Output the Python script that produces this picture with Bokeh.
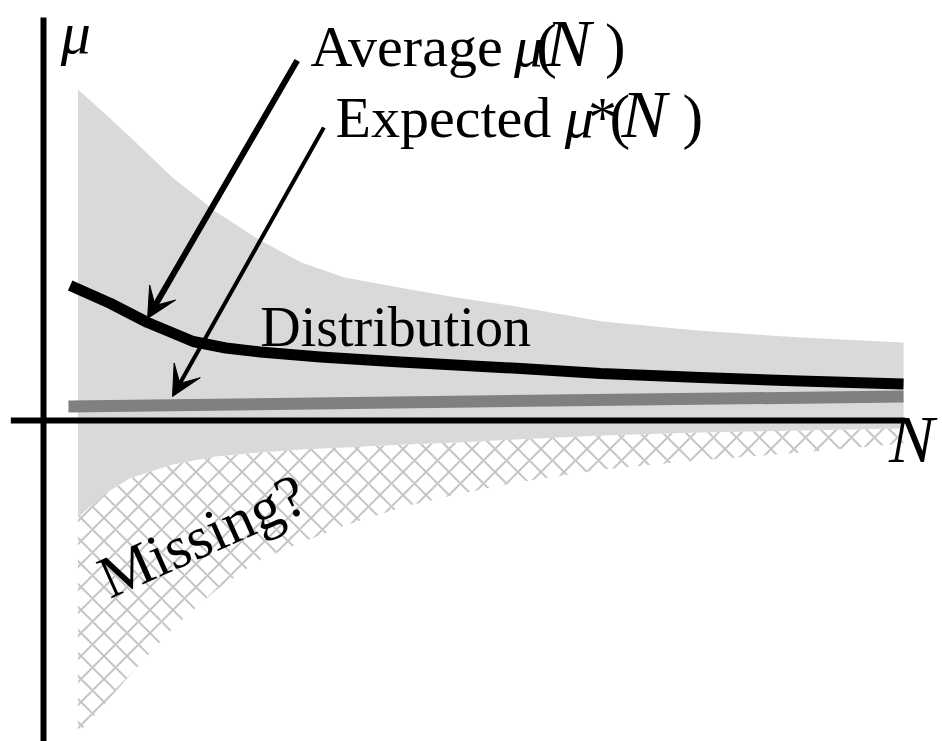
import math
from bokeh.plotting import figure
from bokeh.models import Range1d, Label, Arrow, VeeHead, ColumnDataSource
from bokeh.embed import file_html
from bokeh.resources import INLINE

# ---- data (diagram units: N along x, mu along y) ----
n_band = [4, 7, 10, 15, 20, 25, 30, 35, 42, 48, 55, 65, 76, 88, 100]
mu_upper = [3.31, 3.08, 2.84, 2.43, 2.09, 1.81, 1.58, 1.43, 1.32, 1.23, 1.14, 0.99, 0.90, 0.83, 0.78]
mu_gray_low = [-0.97, -0.74, -0.58, -0.44, -0.36, -0.32, -0.29, -0.27, -0.24, -0.22, -0.19, -0.15, -0.12, -0.10, -0.08]
mu_missing_low = [-3.13, -2.85, -2.55, -2.08, -1.70, -1.40, -1.22, -1.05, -0.86, -0.74, -0.62, -0.49, -0.40, -0.32, -0.23]

n_avg = [3.1, 7.8, 12.1, 17.4, 21.2, 25.2, 32.2, 41.5, 55.5, 64.8, 76.4, 88.0, 100]
mu_avg = [1.35, 1.17, 0.98, 0.79, 0.725, 0.685, 0.635, 0.585, 0.52, 0.47, 0.43, 0.395, 0.365]

n_exp = [2.9, 50, 100]
mu_exp = [0.14, 0.19, 0.24]

n_axis = [-3.8, 100.2]
mu_axis = [4.03, -3.4]

FONT = "Liberation Serif"
XS, YS = 8.6, 100.0   # pixels per data unit

p = figure(width=942, height=741,
           x_range=Range1d(-5.0, 104.53), y_range=Range1d(-3.21, 4.20),
           output_backend="svg", toolbar_location=None,
           x_axis_type=None, y_axis_type=None, min_border=0)
p.outline_line_color = None
p.background_fill_color = "white"
p.border_fill_color = "white"

band = ColumnDataSource(dict(n=n_band, up=mu_upper, gl=mu_gray_low, ml=mu_missing_low))

# missing (hatched) part
p.varea(x="n", y1="ml", y2="gl", source=band, fill_color="white",
        hatch_pattern="x", hatch_color="#c6c6c6", hatch_weight=2, hatch_scale=23)
# distribution (gray)
p.varea(x="n", y1="gl", y2="up", source=band, fill_color="#d9d9d9")

# expected and average curves
p.line(n_exp, mu_exp, line_color="#808080", line_width=12)
p.line(n_avg, mu_avg, line_color="black", line_width=11, line_join="round")

# axes
p.line(n_axis, [0, 0], line_color="black", line_width=6)
p.line([0, 0], mu_axis, line_color="black", line_width=6)

# arrows
p.add_layout(Arrow(end=VeeHead(size=30, fill_color="black", line_color="black"),
                   x_start=29.5, y_start=3.60, x_end=12.1, y_end=1.02,
                   line_color="black", line_width=6))
p.add_layout(Arrow(end=VeeHead(size=30, fill_color="black", line_color="black"),
                   x_start=32.6, y_start=2.93, x_end=15.0, y_end=0.24,
                   line_color="black", line_width=4))

def lab(x, y, t, size, style="normal", angle=0.0):
    # compensate the renderer's baseline offset (about 0.36 em)
    d = 0.36 * size
    x2 = x - math.sin(angle) * d / XS
    y2 = y + math.cos(angle) * d / YS
    p.add_layout(Label(x=x2, y=y2, text=t, text_font=FONT, text_font_size=f"{size}px",
                       text_font_style=style, text_align="left",
                       text_baseline="alphabetic", text_color="black", angle=angle))

# axis titles
lab(2.0, 3.66, "μ", 60, "italic")
lab(98.3, -0.43, "N", 68, "italic")

# Average mu(N)
lab(31.05, 3.53, "Average", 58)
lab(54.7, 3.53, "μ", 58, "italic")
lab(57.3, 3.53, "(", 62)
lab(58.4, 3.53, "N", 68, "italic")
lab(65.3, 3.53, ")", 62)

# Expected mu*(N)
lab(33.95, 2.82, "Expected", 58)
lab(60.6, 2.82, "μ", 58, "italic")
lab(63.3, 2.82, "*", 58)
lab(65.8, 2.82, "(", 62)
lab(67.2, 2.82, "N", 68, "italic")
lab(74.3, 2.82, ")", 62)

lab(25.2, 0.73, "Distribution", 56)
lab(7.8, -1.80, "Missing?", 60, angle=0.419)

open("out.html", "w").write(file_html(p, INLINE))
